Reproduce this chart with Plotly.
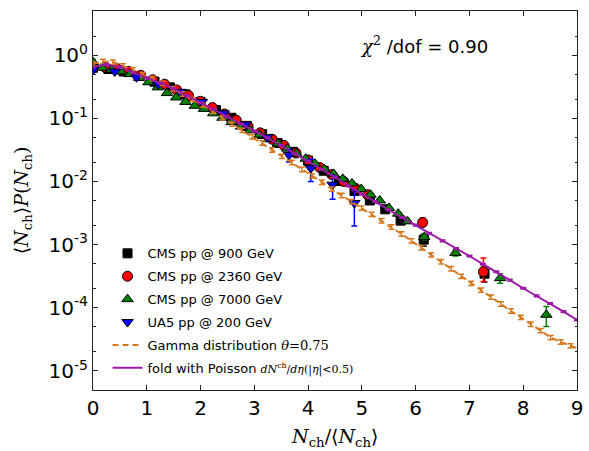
import plotly.graph_objects as go

# ---------------- data ----------------
cms900_x = [0.0, 0.286, 0.572, 0.858, 1.144, 1.43, 1.716, 2.0, 2.288, 2.574, 2.86, 3.146,
            3.432, 3.718, 4.0, 4.29, 4.576, 4.862, 5.148, 5.434, 5.72, 6.15, 7.28]
cms900_y = [0.631, 0.603, 0.550, 0.468, 0.380, 0.309, 0.240, 0.182, 0.135, 0.102, 0.0759, 0.0562,
            0.0407, 0.0295, 0.0214, 0.0148, 0.0102, 0.00708, 0.00501, 0.00363, 0.00240, 0.00120, 0.000347]
cms900_e = [0.02, 0.02, 0.02, 0.015, 0.012, 0.01, 0.008, 0.006, 0.005, 0.004, 0.003, 0.0025,
            0.002, 0.0015, 0.0012, 0.0009, 0.0007, 0.0005, 0.0004, 0.0003, 0.00025, 0.00026, 0.00009]

cms2360_x = [0.0, 0.222, 0.444, 0.666, 0.888, 1.11, 1.332, 1.554, 1.776, 1.998, 2.22, 2.442,
             2.664, 2.886, 3.108, 3.33, 3.552, 3.774, 3.996, 4.218, 4.44, 4.662, 4.884, 5.106, 6.13, 7.26]
cms2360_y = [0.631, 0.646, 0.617, 0.550, 0.479, 0.407, 0.347, 0.282, 0.229, 0.186, 0.148, 0.117,
             0.0933, 0.0741, 0.0589, 0.0468, 0.0372, 0.0282, 0.0219, 0.0166, 0.0129, 0.0100, 0.00776,
             0.00617, 0.00224, 0.000372]
cms2360_e = [0.02, 0.02, 0.02, 0.015, 0.012, 0.01, 0.008, 0.007, 0.006, 0.005, 0.004, 0.003,
             0.0025, 0.002, 0.0017, 0.0014, 0.0011, 0.0009, 0.0007, 0.0006, 0.0005, 0.0004, 0.0003,
             0.00025, 0.0004, 0.00024]
cms2360_em = [0.02, 0.02, 0.02, 0.015, 0.012, 0.01, 0.008, 0.007, 0.006, 0.005, 0.004, 0.003,
              0.0025, 0.002, 0.0017, 0.0014, 0.0011, 0.0009, 0.0007, 0.0006, 0.0005, 0.0004, 0.0003,
              0.00025, 0.0003, 0.00011]

cms7000_x = [0.0, 0.172, 0.344, 0.516, 0.688, 0.86, 1.032, 1.204, 1.376, 1.548, 1.72, 1.892,
             2.064, 2.236, 2.408, 2.58, 2.752, 2.924, 3.096, 3.268, 3.44, 3.612, 3.784, 3.956,
             4.128, 4.30, 4.472, 4.644, 4.816, 4.988, 5.16, 5.332, 5.504, 5.676, 5.848,
             6.16, 6.74, 7.57, 8.43]
cms7000_y = [0.776, 0.631, 0.589, 0.550, 0.501, 0.437, 0.372, 0.309, 0.251, 0.214, 0.182, 0.158,
             0.141, 0.120, 0.102, 0.0871, 0.0741, 0.0646, 0.0550, 0.0468, 0.0398, 0.0331, 0.0275,
             0.0229, 0.0191, 0.0158, 0.0132, 0.0110, 0.00933, 0.00759, 0.00617, 0.00501, 0.00380,
             0.00309, 0.00234, 0.00132, 0.000741, 0.000295, 0.0000776]
cms7000_e = [0.08, 0.03, 0.02, 0.02, 0.015, 0.012, 0.01, 0.008, 0.007, 0.006, 0.005, 0.004,
             0.004, 0.003, 0.003, 0.0025, 0.002, 0.0018, 0.0015, 0.0013, 0.0011, 0.0009, 0.0008,
             0.0007, 0.0006, 0.0005, 0.0004, 0.00035, 0.0003, 0.00025, 0.0002, 0.00018, 0.00015,
             0.00013, 0.0001, 0.00012, 0.00008, 0.00005, 0.000027]

ua5_x = [0.0, 0.405, 0.81, 1.215, 1.62, 2.025, 2.43, 2.835, 3.24, 3.645, 4.05, 4.455, 4.86]
ua5_y = [0.582, 0.550, 0.447, 0.347, 0.263, 0.182, 0.120, 0.0794, 0.0501, 0.0263, 0.0162, 0.00891, 0.00457]
ua5_e = [0.03, 0.025, 0.02, 0.015, 0.012, 0.009, 0.006, 0.004, 0.003, 0.006, 0.0062, 0.0037, 0.0026]

gamma_x = [0.0, 0.185, 0.37, 0.555, 0.74, 0.925, 1.11, 1.295, 1.48, 1.665, 1.85, 2.035,
           2.22, 2.405, 2.59, 2.775, 2.96, 3.145, 3.33, 3.515, 3.70, 3.885, 4.07, 4.255,
           4.44, 4.625, 4.81, 4.995, 5.18, 5.365, 5.55, 5.735, 5.92, 6.105, 6.29, 6.475,
           6.66, 6.845, 7.03, 7.215, 7.40, 7.585, 7.77, 7.955, 8.14, 8.325, 8.51, 8.695,
           8.88, 9.065]
gamma_y = [0.724, 0.794, 0.776, 0.676, 0.589, 0.490, 0.427, 0.359, 0.295, 0.243, 0.200, 0.162,
           0.129, 0.102, 0.0813, 0.0646, 0.0513, 0.0407, 0.0316, 0.0251, 0.0200, 0.0155, 0.0123,
           0.00977, 0.00759, 0.00603, 0.00479, 0.00380, 0.00302, 0.00240, 0.00191, 0.00148,
           0.00115, 0.000891, 0.000692, 0.000537, 0.000417, 0.000316, 0.000245, 0.000191,
           0.000148, 0.000115, 0.0000891, 0.0000708, 0.0000550, 0.0000437, 0.0000339,
           0.0000288, 0.0000251, 0.0000219]

fold_x = [0.0, 0.25, 0.5, 0.75, 1.0, 1.25, 1.5, 1.75, 2.0, 2.25, 2.5, 2.75, 3.0, 3.25, 3.5,
          3.75, 4.0, 4.25, 4.5, 4.75, 5.0, 5.25, 5.5, 5.75, 6.0, 6.25, 6.5, 6.75, 7.0, 7.25,
          7.5, 7.75, 8.0, 8.25, 8.5, 8.75, 9.0]
fold_y = [0.646, 0.708, 0.646, 0.525, 0.437, 0.363, 0.295, 0.229, 0.178, 0.138, 0.105, 0.0813,
          0.0631, 0.0490, 0.0372, 0.0275, 0.0209, 0.0155, 0.0117, 0.00851, 0.00631, 0.00479,
          0.00355, 0.00269, 0.00204, 0.00151, 0.00115, 0.000871, 0.000661, 0.000490, 0.000372,
          0.000275, 0.000204, 0.000155, 0.000117, 0.0000871, 0.0000646]

x_ticks = [0, 1, 2, 3, 4, 5, 6, 7, 8, 9]
y_ticks = [1, 0.1, 0.01, 0.001, 0.0001, 0.00001]
y_ticktext = ["10<sup>0</sup>", "10<sup>-1</sup>", "10<sup>-2</sup>", "10<sup>-3</sup>",
              "10<sup>-4</sup>", "10<sup>-5</sup>"]

# ---------------- figure ----------------
SANS = "DejaVu Sans"
SERIF = "DejaVu Serif"
ORANGE = "#d4781f"
PURPLE = "#9b1aa6"

fig = go.Figure()


def pts(x, y, e, name, symbol, color, size, group, em=None):
    err = dict(type="data", array=e, visible=True, color=color, thickness=1.5, width=3)
    if em is not None:
        err["symmetric"] = False
        err["arrayminus"] = em
    fig.add_trace(go.Scatter(
        x=x, y=y, mode="markers", name=name, legendgroup=group,
        marker=dict(symbol=symbol, color=color, size=size,
                    line=dict(color="black", width=1)),
        error_y=err,
    ))


pts(cms900_x, cms900_y, cms900_e, "CMS pp @ 900 GeV", "square", "black", 9, "g1")
pts(cms2360_x, cms2360_y, cms2360_e, "CMS pp @ 2360 GeV", "circle", "#ff0000", 10, "g2",
    em=cms2360_em)
pts(cms7000_x, cms7000_y, cms7000_e, "CMS pp @ 7000 GeV", "triangle-up", "#008000", 10, "g3")
pts(ua5_x, ua5_y, ua5_e, "UA5 pp @ 200 GeV", "triangle-down", "#0000ff", 10, "g4")

fig.add_trace(go.Scatter(
    x=gamma_x, y=gamma_y, mode="lines", legendgroup="g5",
    name="Gamma distribution <span style='font-family:DejaVu Serif'><i>θ</i>=0.75</span>",
    line=dict(color=ORANGE, width=2, dash="6px,4px"),
    error_y=dict(type="percent", value=8, visible=True, color=ORANGE, thickness=1.5, width=3),
))
fig.add_trace(go.Scatter(
    x=fold_x, y=fold_y, mode="lines", legendgroup="g6",
    name="fold with Poisson <span style='font-family:DejaVu Serif;font-size:11px'>"
         "<i>dN</i><sup>ch</sup>/<i>dη</i>(|<i>η</i>|&lt;0.5)</span>",
    line=dict(color=PURPLE, width=2),
    error_y=dict(type="percent", value=3, visible=True, color=PURPLE, thickness=1.5, width=3),
))

axis_common = dict(
    showline=True, linecolor="#222222", linewidth=1, mirror="ticks",
    ticks="inside", ticklen=5, tickcolor="#222222", tickwidth=1,
    showgrid=False, zeroline=False, ticklabeloverflow="allow",
    tickfont=dict(family=SANS, size=20, color="black"),
)

fig.update_xaxes(range=[0, 9], tickvals=x_ticks, **axis_common)
fig.update_yaxes(type="log", range=[-5.301, 0.699], tickvals=y_ticks, ticktext=y_ticktext,
                 minor=dict(ticks="inside", ticklen=2.5, tickcolor="#222222", showgrid=False),
                 **axis_common)

fig.update_layout(
    width=589, height=451,
    margin=dict(l=93, r=6, t=11, b=61),
    paper_bgcolor="white", plot_bgcolor="white",
    font=dict(family=SANS, color="black"),
    showlegend=True,
    legend=dict(x=0.03, y=0.40, xanchor="left", yanchor="top",
                bgcolor="rgba(0,0,0,0)", font=dict(family=SANS, size=13),
                tracegroupgap=3),
    annotations=[
        dict(text="<i>N</i><sub>ch</sub>/⟨<i>N</i><sub>ch</sub>⟩", xref="paper", yref="paper",
             x=0.5, y=-0.125, showarrow=False, font=dict(family=SERIF, size=19),
             xanchor="center", yanchor="middle"),
        dict(text="⟨<i>N</i><sub>ch</sub>⟩<i>P</i>(<i>N</i><sub>ch</sub>)", xref="paper",
             yref="paper", x=-0.145, y=0.5, showarrow=False, textangle=-90,
             font=dict(family=SERIF, size=19), xanchor="center", yanchor="middle"),
        dict(text="<span style='font-family:DejaVu Serif'><i>χ</i><sup>2</sup></span> /dof = 0.90",
             xref="paper", yref="paper", x=0.684, y=0.91, showarrow=False,
             font=dict(family=SANS, size=18), xanchor="center", yanchor="middle"),
    ],
)

fig.write_html("out.html")
